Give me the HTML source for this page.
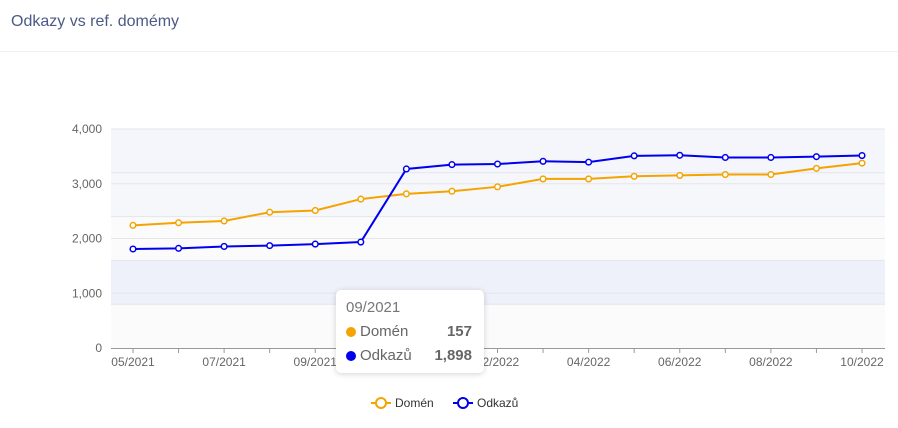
<!DOCTYPE html>
<html><head><meta charset="utf-8"><style>
body{margin:0;width:898px;height:428px;background:#fff;font-family:"Liberation Sans",sans-serif;overflow:hidden;position:relative}
.title{position:absolute;left:11px;top:13px;font-size:16px;color:#4b5a86}
.divider{position:absolute;left:0;top:51px;width:898px;height:1px;background:#eef0f4}
.tip{position:absolute;left:336px;top:290px;width:148px;height:83px;background:#fff;border-radius:5px;box-shadow:0 1px 6px rgba(0,0,0,.18);font-size:15px;color:#666}
.tip div{position:absolute}
.dot{display:inline-block;width:10px;height:10px;border-radius:50%;margin-right:4px;vertical-align:-1px}
</style></head><body>
<div class="title">Odkazy vs ref. domémy</div>
<div class="divider"></div>
<svg id="chart" width="898" height="428" style="position:absolute;left:0;top:0"></svg>
<div class="tip">
 <div style="left:10px;top:9px;color:#777">09/2021</div>
 <div style="left:10px;top:33px"><span class="dot" style="background:#f5a300"></span>Domén</div>
 <div style="right:12px;top:33px;font-weight:bold">157</div>
 <div style="left:10px;top:57px"><span class="dot" style="background:#0000ee"></span>Odkazů</div>
 <div style="right:12px;top:57px;font-weight:bold">1,898</div>
</div>
<script>
const categories=["05/2021","06/2021","07/2021","08/2021","09/2021","10/2021","11/2021","12/2021","02/2022","03/2022","04/2022","05/2022","06/2022","07/2022","08/2022","09/2022","10/2022"];
const odkazu=[1808,1820,1855,1870,1898,1935,3270,3350,3360,3410,3395,3510,3520,3480,3480,3495,3515];
const domen=[140,143,145,155,157,170,176,179,184,193,193,196,197,198,198,205,211];
const yTicks=[0,1000,2000,3000,4000];
const yTickLabels=["0","1,000","2,000","3,000","4,000"];
const NS="http://www.w3.org/2000/svg";
const svg=document.getElementById('chart');
const X0=111,X1=885,Y0=348,Y1=129;
function x(i){return 133+i*(862-133)/(categories.length-1);}
function yL(v){return Y0-v/4000*(Y0-Y1);}
function yR(v){return Y0-v/250*(Y0-Y1);}
function el(t,a){const e=document.createElementNS(NS,t);for(const k in a)e.setAttribute(k,a[k]);svg.appendChild(e);return e;}
const bands=[[0,800,"#fbfbfc"],[800,1600,"#eef1f9"],[1600,2400,"#fbfbfc"],[2400,3200,"#f6f7fb"],[3200,4000,"#f4f6fb"]];
bands.forEach((b,i)=>{const r=el('rect',{x:X0,y:yL(b[1]),width:X1-X0,height:yL(b[0])-yL(b[1]),fill:b[2]});

});
[800,1600,2400,3200].forEach(v=>{const l=el('line',{x1:X0,x2:X1,y1:yL(v),y2:yL(v),stroke:'#e3e6ee'});

});
yTicks.forEach((v,i)=>{
 if(v>0){const g=el('line',{x1:X0,x2:X1,y1:yL(v),y2:yL(v),stroke:'#e6e6ea'});
 
 }
 const t=el('text',{x:102,y:yL(v)+4,'text-anchor':'end','font-size':12,fill:'#666'});t.textContent=yTickLabels[i];
 
 
});
const ax=el('line',{x1:X0,x2:X1,y1:Y0+.5,y2:Y0+.5,stroke:'#999'});


categories.forEach((c,i)=>{
 const tk=el('line',{x1:x(i),x2:x(i),y1:Y0,y2:Y0+5,stroke:'#999'});
 
 
 if(i%2===0){const t=el('text',{x:x(i),y:366,'text-anchor':'middle','font-size':12,fill:'#666'});t.textContent=c;
 
 }
});
function series(vals,f,color,name){
 const p=el('polyline',{points:vals.map((v,i)=>x(i)+','+f(v)).join(' '),fill:'none',stroke:color,'stroke-width':2});
 
 
 vals.forEach((v,i)=>{const c=el('circle',{cx:x(i),cy:f(v),r:2.8,fill:'#fff',stroke:color,'stroke-width':1.5});
 
 });
}
series(domen,yR,'#f5a300','domen');
series(odkazu,yL,'#0000ee','odkazu');
function legend(lx,color,label){
 const l=el('line',{x1:lx,x2:lx+20,y1:403,y2:403,stroke:color,'stroke-width':2});
 
 
 const c=el('circle',{cx:lx+10,cy:403,r:5,fill:'#fff',stroke:color,'stroke-width':2});
 
 
 const t=el('text',{x:lx+24,y:407,'font-size':12,fill:'#333'});t.textContent=label;
 
 
}
legend(371,'#f5a300','Domén');
legend(453,'#0000ee','Odkazů');
</script>
</body></html>
